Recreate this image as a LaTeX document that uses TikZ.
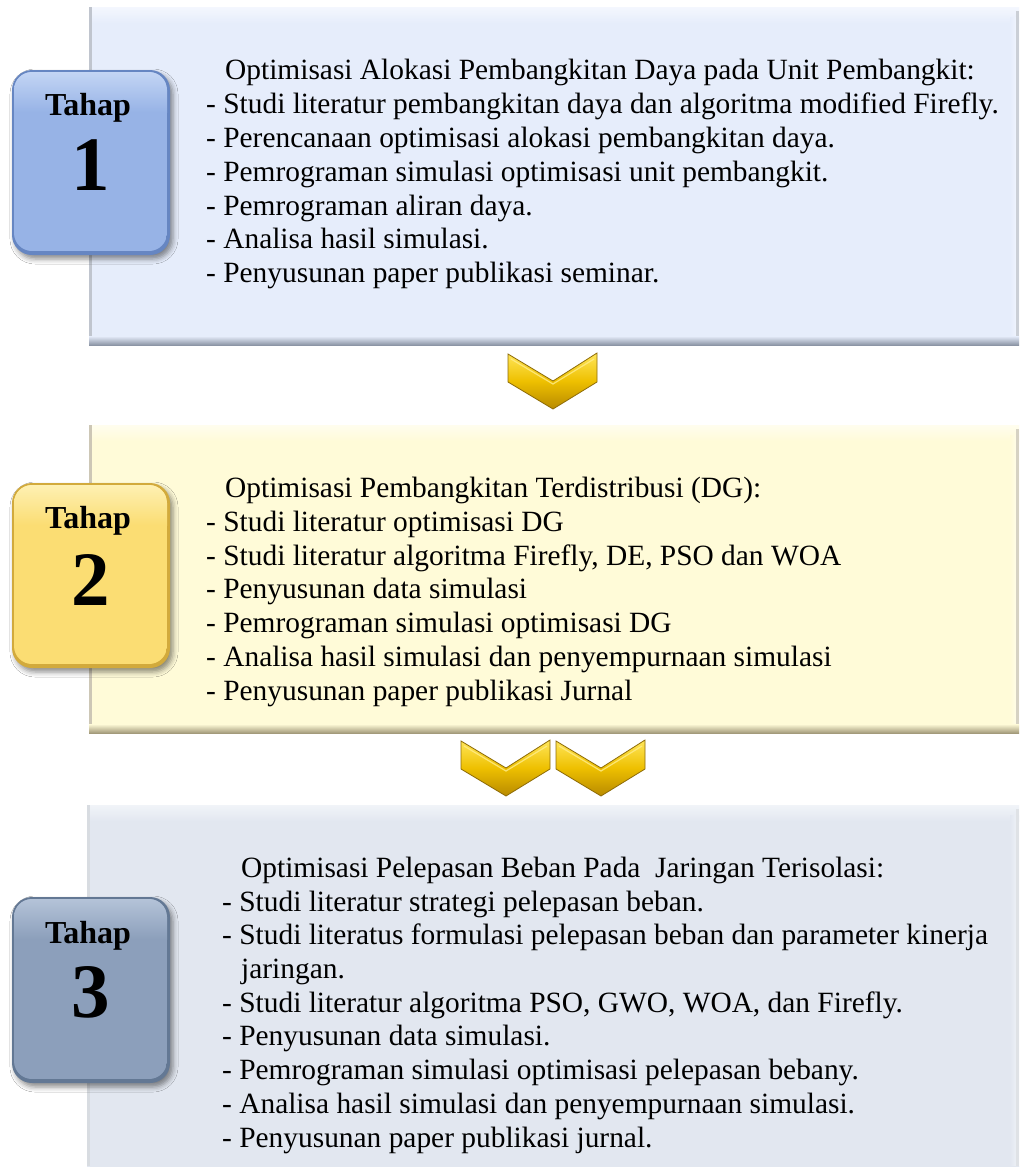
\documentclass[tikz,border=0pt]{standalone}
\usepackage{fontspec}
\setmainfont{Liberation Serif}
\usetikzlibrary{shadows.blur}

% panel colours: fill, light edge, dark edge
\definecolor{paneAfill}{HTML}{E6EDFB}
\definecolor{paneAlight}{HTML}{F4F7FE}
\definecolor{paneAdark}{HTML}{8C95A5}
\definecolor{paneBfill}{HTML}{FFFBD8}
\definecolor{paneBlight}{HTML}{FFFDEE}
\definecolor{paneBdark}{HTML}{A39A7A}
\definecolor{paneCfill}{HTML}{E2E7F0}
\definecolor{paneClight}{HTML}{F1F4F8}
\definecolor{paneCdark}{HTML}{B9BFC8}
% stage badge colours: light top, base, rim
\definecolor{badgeAlight}{HTML}{C3D5F4}
\definecolor{badgeAbase}{HTML}{97B3E6}
\definecolor{badgeArim}{HTML}{6686C2}
\definecolor{badgeBlight}{HTML}{FEF0B2}
\definecolor{badgeBbase}{HTML}{FBDD73}
\definecolor{badgeBrim}{HTML}{D2AA3C}
\definecolor{badgeClight}{HTML}{B4C3D8}
\definecolor{badgeCbase}{HTML}{8C9FBB}
\definecolor{badgeCrim}{HTML}{637894}
% chevron gold
\definecolor{goldlight}{HTML}{FFE65A}
\definecolor{goldmid}{HTML}{EEC000}
\definecolor{golddark}{HTML}{B88A00}
\definecolor{goldedge}{HTML}{8E6C08}

% bevelled panel: x1, y1, x2, y2, fill, light, dark
\newcommand\stagepanel[7]{%
  \fill[#5] (#1,#2) rectangle (#3,#4);
  \shade[top color=#6, bottom color=#5] ({#1},{#2}) rectangle ({#3},{#2+16});
  \fill[#7!55] (#1,#2) rectangle ({#1+3},#4);
  \shade[left color=#5, right color=#6] ({#3-9},{#2+10}) rectangle (#3,{#4-6});
  \fill[#7!45] ({#3-3},{#2+4}) rectangle (#3,{#4-4});
  \shade[top color=#5, bottom color=#7] (#1,{#4-9}) rectangle (#3,#4);
}

% rounded stage badge: x1, y1, x2, y2, light, base, rim
\newcommand\stagebadge[7]{%
  \fill[#7, rounded corners=20pt,
        blur shadow={shadow xshift=3pt, shadow yshift=-4pt, shadow blur radius=5pt, shadow opacity=45}]
    (#1,#2) rectangle (#3,#4);
  \begin{scope}
    \clip[rounded corners=18pt] ({#1+2},{#2+2}) rectangle ({#3-3},{#4-4});
    \fill[#6] ({#1+2},{#2+2}) rectangle ({#3-3},{#4-4});
    \shade[top color=#5, bottom color=#6] ({#1+2},{#2+2}) rectangle ({#3-3},{#2+42});
  \end{scope}
}

\tikzset{
  pics/chevron/.style={code={
    \shade[top color=goldlight, bottom color=golddark, middle color=goldmid,
           draw=goldedge, line width=0.8pt, line join=miter]
      (-45,1) -- (0,28) -- (44,0) -- (44,29) -- (0,56) -- (-45,29) -- cycle;
    \draw[goldlight!70!white, line width=1.2pt, opacity=0.8]
      (-42,6) -- (0,31) -- (41,6);
  }},
  txt/.style={anchor=base west, inner sep=0pt, font=\fontsize{29.4}{33.8}\selectfont},
  tahapword/.style={anchor=base, inner sep=0pt, font=\fontsize{32}{36}\selectfont\bfseries},
  tahapnum/.style={anchor=base, inner sep=0pt, font=\fontsize{77}{80}\selectfont\bfseries},
}

\begin{document}
\begin{tikzpicture}[x=1pt, y=-1pt]
\useasboundingbox[fill=white] (0,0) rectangle (1023,1167);
\clip (0,0) rectangle (1023,1167);

% ---- panels ----
\stagepanel{89}{7}{1019}{345}{paneAfill}{paneAlight}{paneAdark}
\stagepanel{89}{425}{1019}{733}{paneBfill}{paneBlight}{paneBdark}
\stagepanel{87}{805}{1019}{1175}{paneCfill}{paneClight}{paneCdark}

% ---- stage badges ----
\stagebadge{12}{70}{170}{255}{badgeAlight}{badgeAbase}{badgeArim}
\stagebadge{12}{483}{170}{668}{badgeBlight}{badgeBbase}{badgeBrim}
\stagebadge{12}{897}{170}{1083}{badgeClight}{badgeCbase}{badgeCrim}

\node[tahapword] (tA) at (88,115) {Tahap};
\node[tahapnum]  (nA) at (91,190) {1};
\node[tahapword] (tB) at (88,528) {Tahap};
\node[tahapnum]  (nB) at (91,605) {2};
\node[tahapword] (tC) at (88,943) {Tahap};
\node[tahapnum]  (nC) at (91,1017) {3};

% ---- chevrons between stages ----
\pic at (553,353) {chevron};
\pic at (506,740) {chevron};
\pic at (601,740) {chevron};

% ---- stage 1 text ----
\node[txt] (a0) at (225,79)  {Optimisasi Alokasi Pembangkitan Daya pada Unit Pembangkit:};
\node[txt] (a1) at (206,113) {- Studi literatur pembangkitan daya dan algoritma modified Firefly.};
\node[txt] (a2) at (206,147) {- Perencanaan optimisasi alokasi pembangkitan daya.};
\node[txt] (a3) at (206,181) {- Pemrograman simulasi optimisasi unit pembangkit.};
\node[txt] (a4) at (206,215) {- Pemrograman aliran daya.};
\node[txt] (a5) at (206,248) {- Analisa hasil simulasi.};
\node[txt] (a6) at (206,282) {- Penyusunan paper publikasi seminar.};

% ---- stage 2 text ----
\node[txt] (b0) at (225,497) {Optimisasi Pembangkitan Terdistribusi (DG):};
\node[txt] (b1) at (206,531) {- Studi literatur optimisasi DG};
\node[txt] (b2) at (206,565) {- Studi literatur algoritma Firefly, DE, PSO dan WOA};
\node[txt] (b3) at (206,598) {- Penyusunan data simulasi};
\node[txt] (b4) at (206,632) {- Pemrograman simulasi optimisasi DG};
\node[txt] (b5) at (206,666) {- Analisa hasil simulasi dan penyempurnaan simulasi};
\node[txt] (b6) at (206,700) {- Penyusunan paper publikasi Jurnal};

% ---- stage 3 text ----
\node[txt] (c0) at (241,877)  {Optimisasi Pelepasan Beban Pada\ \ Jaringan Terisolasi:};
\node[txt] (c1) at (222,911)  {- Studi literatur strategi pelepasan beban.};
\node[txt] (c2) at (222,944)  {- Studi literatus formulasi pelepasan beban dan parameter kinerja};
\node[txt] (c3) at (241,978)  {jaringan.};
\node[txt] (c4) at (222,1012) {- Studi literatur algoritma PSO, GWO, WOA, dan Firefly.};
\node[txt] (c5) at (222,1045) {- Penyusunan data simulasi.};
\node[txt] (c6) at (222,1079) {- Pemrograman simulasi optimisasi pelepasan bebany.};
\node[txt] (c7) at (222,1113) {- Analisa hasil simulasi dan penyempurnaan simulasi.};
\node[txt] (c8) at (222,1147) {- Penyusunan paper publikasi jurnal.};
\end{tikzpicture}
\end{document}
